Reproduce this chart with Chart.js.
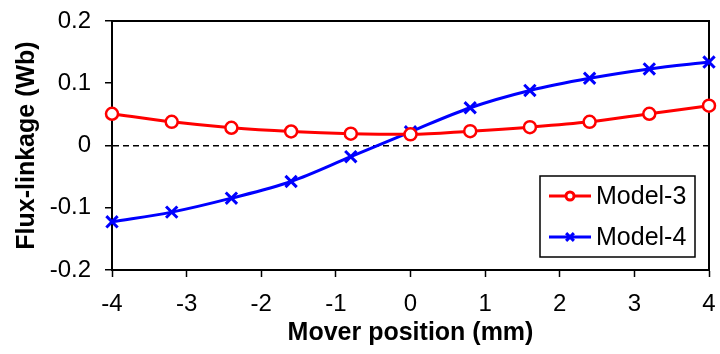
<!DOCTYPE html>
<html>
<head>
<meta charset="utf-8">
<script src="https://cdn.jsdelivr.net/npm/chart.js@4.4.1/dist/chart.umd.min.js"></script>
<style>
  html, body { margin: 0; padding: 0; background: #fff; }
  #wrap { width: 720px; height: 354px; position: relative; }
</style>
</head>
<body>
<div id="wrap"><canvas id="fluxChart"></canvas></div>
<script>
// mover positions (mm)
var positions = [-4, -3.2, -2.4, -1.6, -0.8, 0, 0.8, 1.6, 2.4, 3.2, 4];
// flux-linkage (Wb)
var model3 = [0.051, 0.038, 0.0285, 0.0225, 0.019, 0.018, 0.023, 0.0295, 0.038, 0.051, 0.064];
var model4 = [-0.1226, -0.107, -0.0846, -0.0578, -0.018, 0.022, 0.0606, 0.0884, 0.108, 0.123, 0.134];
var seriesNames = ['Model-3', 'Model-4'];
var xTicks = [-4, -3, -2, -1, 0, 1, 2, 3, 4];
var yTicks = [-0.2, -0.1, 0, 0.1, 0.2];

var FONT = "'Liberation Sans', Arial, sans-serif";

function toPoints(vals) {
  return positions.map(function (p, i) { return { x: p, y: vals[i] }; });
}

// box round the plot area
var framePlugin = {
  id: 'frame',
  beforeDatasetsDraw: function (chart) {
    var a = chart.chartArea, ctx = chart.ctx;
    ctx.save();
    ctx.strokeStyle = '#000';
    ctx.lineWidth = 2;
    ctx.strokeRect(a.left, a.top, a.right - a.left, a.bottom - a.top);
    ctx.restore();
  }
};

// legend with a border, inside the plot
var boxLegend = {
  id: 'boxLegend',
  afterDraw: function (chart) {
    var ctx = chart.ctx;
    var a = chart.chartArea;
    var bx = a.right - 169, by = 176, bw = 155, bh = 81;
    ctx.save();
    ctx.fillStyle = '#fff';
    ctx.fillRect(bx, by, bw, bh);
    ctx.strokeStyle = '#000';
    ctx.lineWidth = 1.5;
    ctx.strokeRect(bx, by, bw, bh);
    chart.data.datasets.forEach(function (ds, i) {
      var y = by + 20 + i * 41;
      ctx.strokeStyle = ds.borderColor;
      ctx.lineWidth = 3;
      ctx.beginPath();
      ctx.moveTo(bx + 9, y);
      ctx.lineTo(bx + 51, y);
      ctx.stroke();
      ctx.fillStyle = '#fff';
      Chart.helpers.drawPoint(ctx, {
        pointStyle: ds.pointStyle,
        radius: i === 0 ? 4 : 5.5,
        borderWidth: 2.5,
        rotation: 0
      }, bx + 30, y);
      ctx.fillStyle = '#000';
      ctx.font = '25px ' + FONT;
      ctx.textBaseline = 'middle';
      ctx.textAlign = 'left';
      ctx.fillText(ds.label, bx + 56, y + 1);
    });
    ctx.restore();
  }
};

var ctx = document.getElementById('fluxChart');
var fluxChart = new Chart(ctx, {
  type: 'line',
  data: {
    datasets: [
      {
        label: seriesNames[0],
        data: toPoints(model3),
        borderColor: '#ff0000',
        borderWidth: 3,
        pointStyle: 'circle',
        pointRadius: 6,
        pointBorderWidth: 2.5,
        pointBorderColor: '#ff0000',
        pointBackgroundColor: '#fff',
        cubicInterpolationMode: 'monotone',
        clip: false
      },
      {
        label: seriesNames[1],
        data: toPoints(model4),
        borderColor: '#0000ff',
        borderWidth: 3,
        pointStyle: 'crossRot',
        pointRadius: 8,
        pointBorderWidth: 3,
        pointBorderColor: '#0000ff',
        cubicInterpolationMode: 'monotone',
        clip: false
      }
    ]
  },
  options: {
    responsive: true,
    maintainAspectRatio: false,
    animation: false,
    layout: { padding: { left: 0, right: 8, top: 21, bottom: 0 } },
    plugins: {
      legend: { display: false },
      tooltip: { enabled: false }
    },
    scales: {
      x: {
        type: 'linear',
        min: -4,
        max: 4,
        afterBuildTicks: function (s) { s.ticks = xTicks.map(function (v) { return { value: v }; }); },
        afterFit: function (s) { s.height = 84; s.paddingLeft = 0; s.paddingRight = 0; },
        grid: { drawOnChartArea: false, tickLength: 7, tickColor: '#000', tickWidth: 1.5 },
        border: { color: '#000', width: 2 },
        ticks: { color: '#000', font: { family: FONT, size: 24 }, padding: 13 },
        title: {
          display: true,
          text: 'Mover position (mm)',
          color: '#000',
          font: { family: FONT, size: 25, weight: 'bold' },
          padding: { top: 0, bottom: 6 }
        }
      },
      y: {
        min: -0.2,
        max: 0.2,
        afterBuildTicks: function (s) { s.ticks = yTicks.map(function (v) { return { value: v }; }); },
        afterFit: function (s) { s.width = 112; s.paddingTop = 0; s.paddingBottom = 0; },
        grid: {
          color: function (c) { return c.tick && c.tick.value === 0 ? '#000' : 'rgba(0,0,0,0)'; },
          lineWidth: 1.5,
          tickLength: 7,
          tickColor: '#000',
          tickWidth: 1.5
        },
        border: { color: '#000', width: 2, dash: [6, 4] },
        ticks: {
          color: '#000',
          font: { family: FONT, size: 24 },
          padding: 14,
          callback: function (v) { return String(Math.round(v * 10) / 10); }
        },
        title: {
          display: true,
          text: 'Flux-linkage (Wb)',
          color: '#000',
          font: { family: FONT, size: 25, weight: 'bold' },
          padding: { top: 12, bottom: 0 }
        }
      }
    }
  },
  plugins: [framePlugin, boxLegend]
});
</script>
</body>
</html>
